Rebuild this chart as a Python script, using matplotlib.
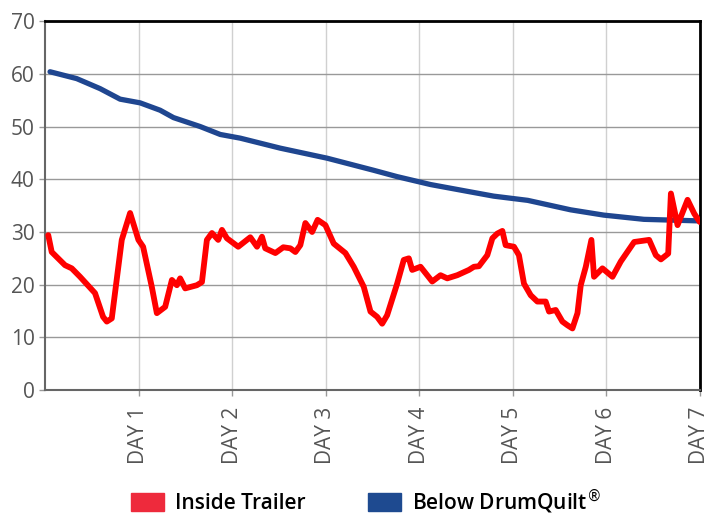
import numpy as np
import matplotlib
matplotlib.use("Agg")
import matplotlib.pyplot as plt
from matplotlib.patches import Patch

plt.rcParams['font.family'] = ['Open Sans', 'DejaVu Sans']

# inside trailer temperature (red), day vs value
inside_days = [0.035, 0.072, 0.214, 0.286, 0.375, 0.535, 0.621, 0.661, 0.714, 0.821,
               0.910, 0.999, 1.049, 1.142, 1.196, 1.285, 1.357, 1.410, 1.445, 1.499,
               1.624, 1.678, 1.731, 1.785, 1.852, 1.892, 1.945, 2.066, 2.195, 2.267,
               2.320, 2.355, 2.463, 2.548, 2.623, 2.677, 2.730, 2.784, 2.856, 2.915,
               2.998, 3.087, 3.212, 3.301, 3.408, 3.480, 3.551, 3.605, 3.658, 3.765,
               3.836, 3.890, 3.926, 4.015, 4.140, 4.229, 4.301, 4.408, 4.532, 4.586,
               4.639, 4.729, 4.783, 4.836, 4.890, 4.925, 5.014, 5.067, 5.121, 5.193,
               5.264, 5.353, 5.389, 5.460, 5.532, 5.586, 5.639, 5.693, 5.728, 5.782,
               5.842, 5.870, 5.960, 6.067, 6.156, 6.299, 6.459, 6.531, 6.585, 6.663,
               6.692, 6.763, 6.870, 6.941, 7.0]
inside_vals = [29.4, 26.2, 23.7, 23.1, 21.5, 18.4, 13.9, 13.0, 13.6, 28.5,
               33.6, 28.5, 27.2, 19.6, 14.6, 15.8, 20.9, 19.9, 21.2, 19.3,
               19.9, 20.5, 28.5, 29.8, 28.5, 30.4, 28.8, 27.2, 29.0, 27.2,
               29.1, 26.9, 26.0, 27.1, 26.9, 26.2, 27.5, 31.7, 30.0, 32.3,
               31.3, 27.8, 26.0, 23.4, 19.6, 14.9, 13.9, 12.6, 14.2, 20.2,
               24.7, 25.0, 22.8, 23.4, 20.6, 21.8, 21.2, 21.8, 22.8, 23.4,
               23.5, 25.6, 28.8, 29.7, 30.2, 27.5, 27.2, 25.6, 20.2, 18.0,
               16.8, 16.8, 14.9, 15.2, 13.0, 12.3, 11.7, 14.6, 19.9, 23.4,
               28.5, 21.5, 23.1, 21.5, 24.4, 28.1, 28.5, 25.6, 24.8, 25.9,
               37.3, 31.3, 36.1, 33.5, 31.9]

# below drumquilt temperature (blue)
below_days = [0.054, 0.339, 0.589, 0.803, 1.017, 1.231, 1.374, 1.660, 1.874, 2.088,
              2.516, 3.016, 3.515, 3.765, 4.122, 4.550, 4.797, 5.161, 5.621, 5.974,
              6.403, 7.0]
below_vals = [60.4, 59.1, 57.2, 55.2, 54.5, 53.1, 51.7, 50.0, 48.5, 47.8,
              45.9, 44.0, 41.7, 40.5, 39.0, 37.6, 36.8, 36.0, 34.2, 33.2,
              32.4, 32.1]

day_ticks = [1, 2, 3, 4, 5, 6, 7]
day_labels = ['DAY 1', 'DAY 2', 'DAY 3', 'DAY 4', 'DAY 5', 'DAY 6', 'DAY 7']
series_names = ['Inside Trailer', 'Below DrumQuilt$^{®}$']

fig = plt.figure(figsize=(7.14, 5.16), dpi=100)
ax = fig.add_axes([0.063, 0.244, 0.917, 0.715])

ax.plot(below_days, below_vals, color='#1f4690', lw=3.8, solid_capstyle='round', zorder=3)
ax.plot(inside_days, inside_vals, color='#ff0000', lw=4.2, solid_capstyle='round',
        solid_joinstyle='round', zorder=4)

ax.set_xlim(0, 7)
ax.set_ylim(0, 70)
ax.set_yticks(range(0, 71, 10))
ax.set_xticks(day_ticks)
ax.set_xticklabels(day_labels, rotation=90)

ax.yaxis.grid(True, color='#999999', lw=1)
ax.xaxis.grid(True, color='#d0d0d0', lw=1)
ax.set_axisbelow(True)

for s in ['top', 'right']:
    ax.spines[s].set_color('black')
    ax.spines[s].set_linewidth(2)
for s in ['left', 'bottom']:
    ax.spines[s].set_color('#666666')
    ax.spines[s].set_linewidth(1.5)

ax.tick_params(axis='both', colors='#999999', labelcolor='#555555', labelsize=15,
               length=4, width=1)
ax.tick_params(axis='x', pad=8)

handles = [Patch(color='#ee2a3c'), Patch(color='#1e4a90')]
fig.legend(handles, series_names, loc='center', bbox_to_anchor=(0.512, 0.028),
           ncol=2, frameon=False, handlelength=1.6, handleheight=1.0,
           columnspacing=3.0, handletextpad=0.5, borderpad=0,
           prop={'weight': 'semibold', 'size': 15})

fig.savefig('out.png', dpi=100)
